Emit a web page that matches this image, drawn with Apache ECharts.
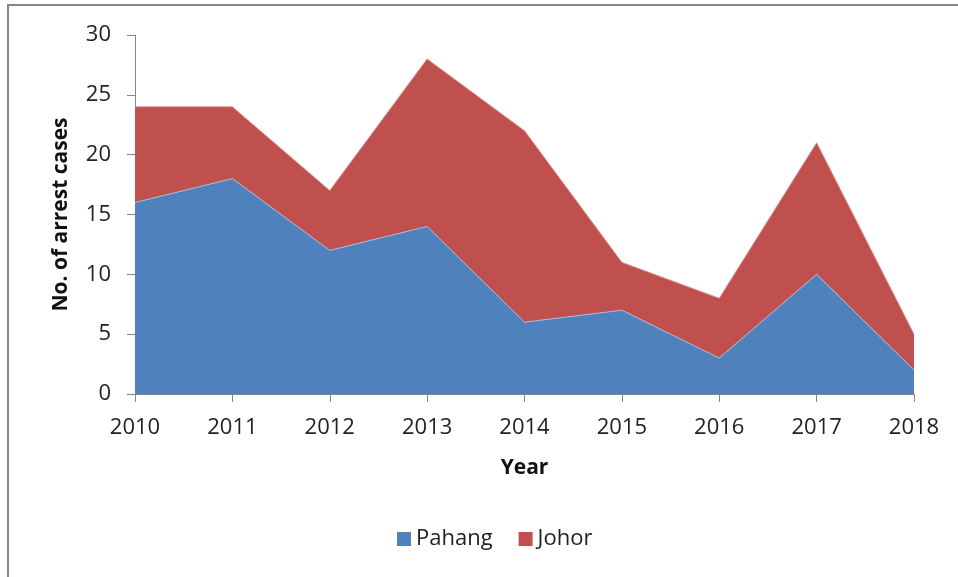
<!DOCTYPE html>
<html>
<head>
<meta charset="utf-8">
<script src="https://cdn.jsdelivr.net/npm/echarts@6/dist/echarts.min.js"></script>
<style>
  html, body { margin: 0; padding: 0; background: #fff; }
  #chart { width: 958px; height: 577px; }
</style>
</head>
<body>
<div id="chart"></div>
<script>
// data
const years = ['2010', '2011', '2012', '2013', '2014', '2015', '2016', '2017', '2018'];
const pahang = [16, 18, 12, 14, 6, 7, 3, 10, 2];
const johor = [8, 6, 5, 14, 16, 4, 5, 11, 3];

const chart = echarts.init(document.getElementById('chart'));
const font = '"Open Sans", "Noto Sans", sans-serif';

const option = {
    animation: false,
    textStyle: { fontFamily: font },
    graphic: [{
        type: 'rect',
        shape: { x: 8, y: 5, width: 1000, height: 600 },
        style: { fill: 'none', stroke: '#868686', lineWidth: 2 }
    }],
    grid: { left: 135, right: 44, top: 35, bottom: 183 },
    legend: {
        bottom: 22,
        left: 392,
        itemWidth: 14,
        itemHeight: 14,
        itemGap: 26,
        icon: 'rect',
        textStyle: { fontSize: 22, color: '#222', fontFamily: font }
    },
    xAxis: {
        type: 'category',
        data: years,
        boundaryGap: false,
        name: 'Year',
        nameLocation: 'middle',
        nameGap: 64,
        nameTextStyle: { fontSize: 21, fontWeight: 'bold', color: '#111', fontFamily: font },
        axisLine: { lineStyle: { color: '#868686' } },
        axisTick: { show: true, length: 8, lineStyle: { color: '#868686' } },
        axisLabel: { fontSize: 22, color: '#222', margin: 23 }
    },
    yAxis: {
        type: 'value',
        min: 0,
        max: 30,
        interval: 5,
        name: 'No. of arrest cases',
        nameLocation: 'middle',
        nameGap: 63,
        nameTextStyle: { fontSize: 21, fontWeight: 'bold', color: '#111', fontFamily: font },
        axisLine: { show: true, lineStyle: { color: '#868686' } },
        axisTick: { show: true, length: 8, lineStyle: { color: '#868686' } },
        splitLine: { show: false },
        axisLabel: { fontSize: 22, color: '#222', margin: 24 }
    },
    series: [
        {
            name: 'Pahang',
            type: 'line',
            stack: 'total',
            data: pahang,
            symbol: 'none',
            lineStyle: { width: 1, color: '#a8bcd8' },
            itemStyle: { color: '#4F81BD' },
            areaStyle: { color: '#4F81BD', opacity: 1 }
        },
        {
            name: 'Johor',
            type: 'line',
            stack: 'total',
            data: johor,
            symbol: 'none',
            lineStyle: { width: 1, color: '#d99694' },
            itemStyle: { color: '#C0504D' },
            areaStyle: { color: '#C0504D', opacity: 1 }
        }
    ]
};
chart.setOption(option);
</script>
</body>
</html>
